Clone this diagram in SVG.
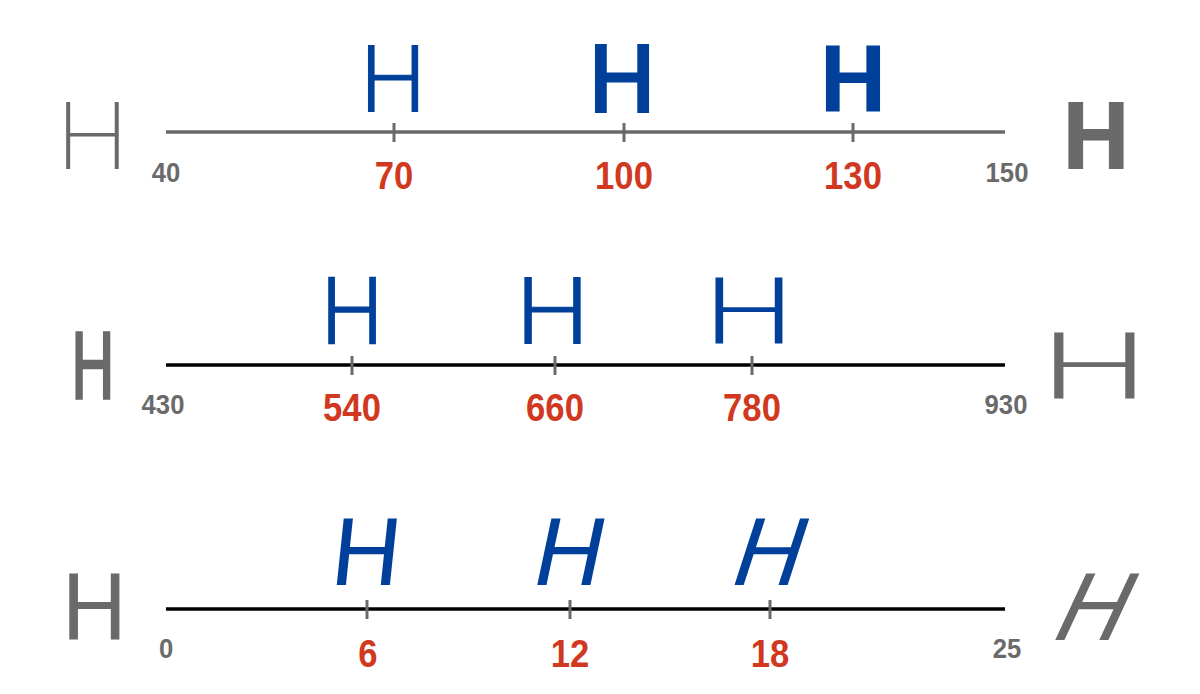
<svg xmlns="http://www.w3.org/2000/svg" width="1200" height="694" viewBox="0 0 1200 694">
<style>
.H{font-family:Roboto,Inter,"Noto Sans",sans-serif;font-size:93.5px;text-anchor:middle}
.blue{fill:#00409a;stroke:#00409a}
.gray{fill:#6a6a6a;stroke:#6a6a6a}
.lab{font-family:"Liberation Sans",Arial,sans-serif;font-weight:700;text-anchor:middle}
.min{font-size:28.5px;fill:#6a6a6a}
.val{font-size:38.5px;fill:#d0391f}
.axisG{stroke:#6a6a6a;stroke-width:3.5}
.axisB{stroke:#000;stroke-width:3.5}
.tick{stroke:#6a6a6a;stroke-width:3}
</style>
<rect width="1200" height="694" fill="#fff"/>
<g id="connectors">
  <line class="axisG" x1="166" y1="132" x2="1005" y2="132"/>
  <line class="tick" x1="394" y1="123" x2="394" y2="142"/>
  <line class="tick" x1="624" y1="123" x2="624" y2="142"/>
  <line class="tick" x1="853" y1="123" x2="853" y2="142"/>
  <line class="axisB" x1="166" y1="365" x2="1005" y2="365"/>
  <line class="tick" x1="352" y1="356" x2="352" y2="375"/>
  <line class="tick" x1="555" y1="356" x2="555" y2="375"/>
  <line class="tick" x1="752" y1="356" x2="752" y2="375"/>
  <line class="axisB" x1="166" y1="609" x2="1005" y2="609"/>
  <line class="tick" x1="367" y1="600" x2="367" y2="619"/>
  <line class="tick" x1="570" y1="600" x2="570" y2="619"/>
  <line class="tick" x1="770" y1="600" x2="770" y2="619"/>
</g>
<g id="row-weight">
  <g id="w-min"><text class="H gray" transform="translate(92.5,169) scale(1.08,1)" font-weight="100" stroke-width="1.2">H</text><text class="lab min" transform="translate(166,182) scale(0.9,1)">40</text></g>
  <g id="w-70"><text class="H blue" x="393" y="112" font-weight="300" stroke-width="1">H</text><text class="lab val" transform="translate(394,189) scale(0.9,1)">70</text></g>
  <g id="w-100"><text class="H blue" x="622" y="112" font-weight="400" stroke-width="3">H</text><text class="lab val" transform="translate(624,189) scale(0.9,1)">100</text></g>
  <g id="w-130"><text class="H blue" x="853" y="112" font-weight="700" stroke-width="0">H</text><text class="lab val" transform="translate(853,189) scale(0.9,1)">130</text></g>
  <g id="w-max"><text class="H gray" x="1096" y="169" font-weight="700" stroke-width="1">H</text><text class="lab min" transform="translate(1007,182) scale(0.9,1)">150</text></g>
</g>
<g id="row-width">
  <g id="wd-min"><text class="H gray" transform="translate(93,399) scale(0.65,1)" font-weight="400" stroke-width="2.5">H</text><text class="lab min" transform="translate(163,414) scale(0.9,1)">430</text></g>
  <g id="wd-540"><text class="H blue" transform="translate(352,344) scale(0.94,1)" font-weight="300" stroke-width="1.5">H</text><text class="lab val" transform="translate(352,421) scale(0.9,1)">540</text></g>
  <g id="wd-660"><text class="H blue" transform="translate(552.5,344) scale(1.12,1)" font-weight="300" stroke-width="1">H</text><text class="lab val" transform="translate(555,421) scale(0.9,1)">660</text></g>
  <g id="wd-780"><text class="H blue" transform="translate(749,344) scale(1.36,1)" font-weight="300" stroke-width="0">H</text><text class="lab val" transform="translate(752,421) scale(0.9,1)">780</text></g>
  <g id="wd-max"><text class="H gray" transform="translate(1094.5,399) scale(1.63,1)" font-weight="300" stroke-width="0">H</text><text class="lab min" transform="translate(1006,414) scale(0.9,1)">930</text></g>
</g>
<g id="row-slant">
  <g id="s-min"><text class="H gray" transform="translate(94.5,640) scale(0.98,1)" font-weight="400" stroke-width="0">H</text><text class="lab min" transform="translate(166,658) scale(0.9,1)">0</text></g>
  <g id="s-6"><text class="H blue" transform="translate(367,551.5) skewX(-6) scale(1.04,1)" y="33.5" font-weight="400" stroke-width="0">H</text><text class="lab val" transform="translate(368,667) scale(0.9,1)">6</text></g>
  <g id="s-12"><text class="H blue" transform="translate(571,551.5) skewX(-12) scale(1.04,1)" y="33.5" font-weight="400" stroke-width="0">H</text><text class="lab val" transform="translate(570,667) scale(0.9,1)">12</text></g>
  <g id="s-18"><text class="H blue" transform="translate(772,551.5) skewX(-18) scale(1.04,1)" y="33.5" font-weight="400" stroke-width="0">H</text><text class="lab val" transform="translate(770,667) scale(0.9,1)">18</text></g>
  <g id="s-max"><text class="H gray" transform="translate(1097.5,606.5) skewX(-25) scale(1.04,1)" y="33.5" font-weight="400" stroke-width="0">H</text><text class="lab min" transform="translate(1007,658) scale(0.9,1)">25</text></g>
</g>
</svg>
